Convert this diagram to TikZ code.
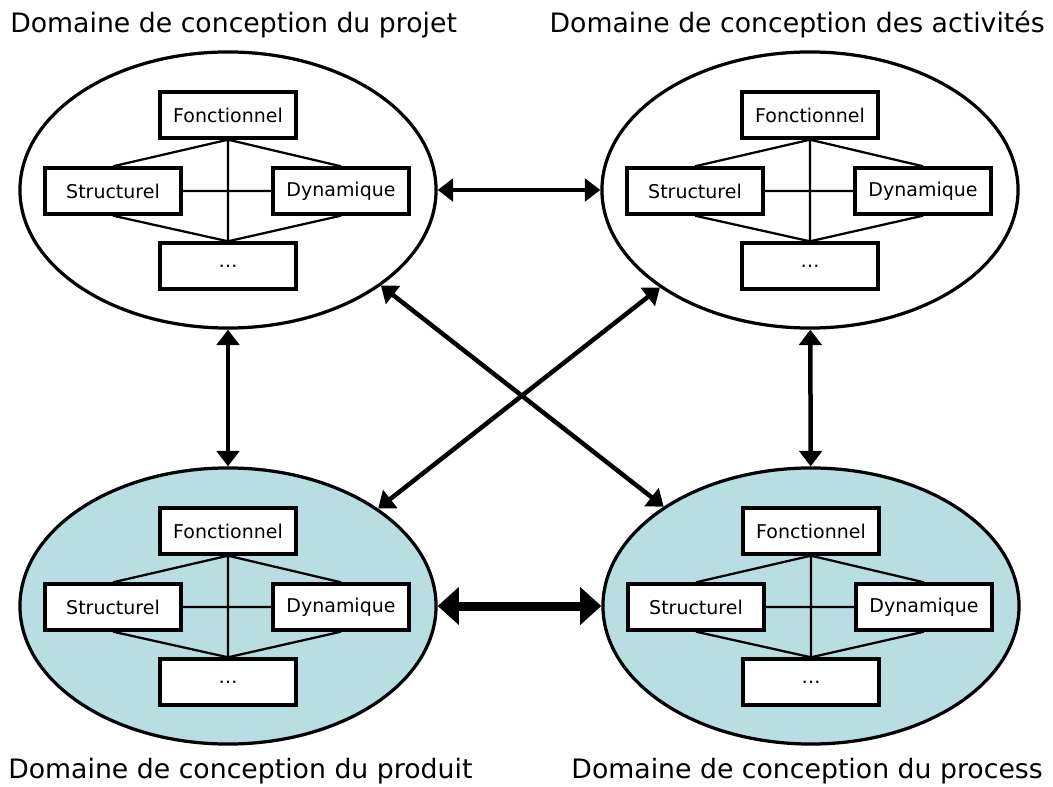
\documentclass[tikz,border=0pt]{standalone}
\usepackage{fontspec}
\setmainfont{DejaVu Sans}
\usetikzlibrary{arrows.meta,shapes.geometric}
\definecolor{domainblue}{RGB}{184,222,226}
\begin{document}
\begin{tikzpicture}[x=0.025cm, y=-0.025cm,
    dombubble/.style={draw, ellipse, line width=2.3pt, minimum width=10.4cm, minimum height=6.9cm},
    part/.style={draw, fill=white, line width=2.4pt, minimum width=3.4cm, minimum height=1.15cm, inner sep=0pt, font=\fontsize{13.5}{15}\selectfont},
    link/.style={line width=1.6pt},
    twoway/.style={{Triangle[length=11pt,width=16pt]}-{Triangle[length=11pt,width=16pt]}, line width=3.2pt},
    bigtwoway/.style={{Triangle[length=15pt,width=26pt]}-{Triangle[length=15pt,width=26pt]}, line width=6.4pt},
    title/.style={inner sep=0pt, font=\fontsize{19}{23}\selectfont}]
\useasboundingbox (0,0) rectangle (1053,787);

% Domains
\foreach \d/\cx/\cy/\c in {projet/228/190/white, activites/810/190/white, produit/228/606/domainblue, process/811/606/domainblue} {
  \node[dombubble, fill=\c] (\d) at (\cx,\cy) {};
  \node[part] (\d-fonc) at (\cx,\cy-75) {Fonctionnel};
  \node[part] (\d-struct) at (\cx-115,\cy+1) {Structurel};
  \node[part] (\d-dyn) at (\cx+113,\cy+1) {Dynamique};
  \node[part] (\d-etc) at (\cx,\cy+76) {\dots};
  \draw[link] (\d-fonc.south) -- (\d-etc.north)
    (\d-struct.east) -- (\d-dyn.west)
    (\d-fonc.south) -- (\d-struct.north)
    (\d-fonc.south) -- (\d-dyn.north)
    (\d-struct.south) -- (\d-etc.north)
    (\d-dyn.south) -- (\d-etc.north);
}

% Titles
\node[title, anchor=base west] (t-projet) at (10,33) {Domaine de conception du projet};
\node[title, anchor=base east] (t-activites) at (1045,33) {Domaine de conception des activités};
\node[title, anchor=base west] (t-produit) at (8,778) {Domaine de conception du produit};
\node[title, anchor=base east] (t-process) at (1043,778) {Domaine de conception du process};

% Arrows
\draw[twoway] (projet) -- (activites);
\draw[twoway] (projet) -- (produit);
\draw[twoway] (activites) -- (process);
\draw[twoway] (projet.-32) -- (process.146);
\draw[twoway] (activites.-147) -- (produit.33);
\draw[bigtwoway] (produit) -- (process);
\end{tikzpicture}
\end{document}
